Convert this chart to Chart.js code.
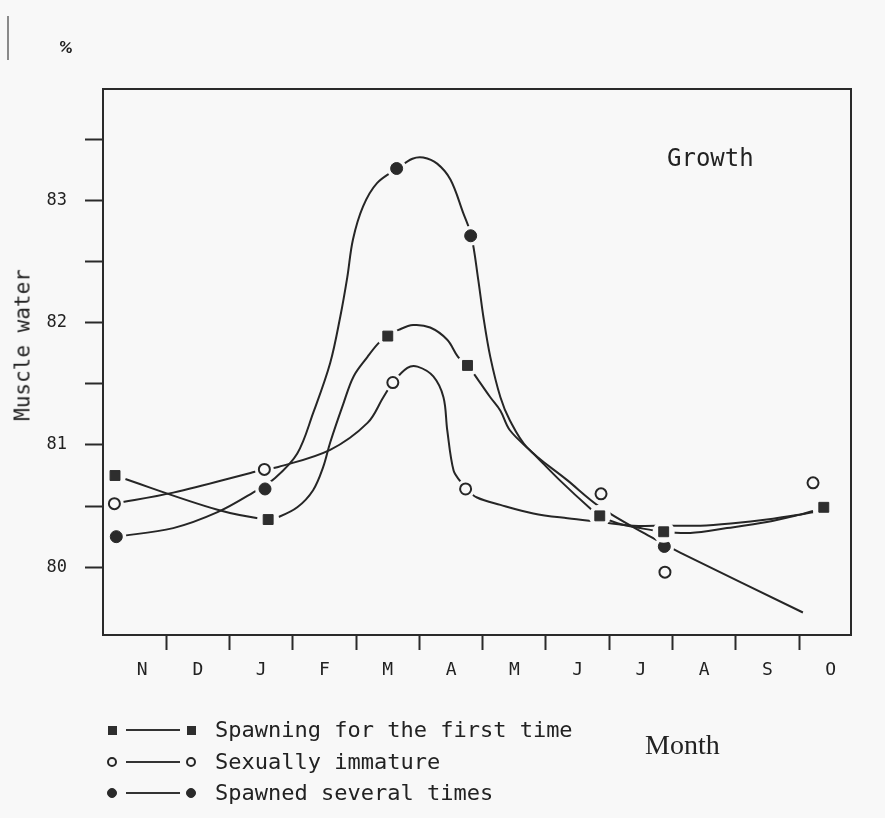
<!DOCTYPE html>
<html>
<head>
<meta charset="utf-8">
<script src="https://cdn.jsdelivr.net/npm/chart.js@4.4.0/dist/chart.umd.min.js"></script>
<style>
  html, body { margin: 0; padding: 0; background: #f8f8f8; }
  #wrap { position: relative; width: 885px; height: 818px; overflow: hidden; }
  #c { position: absolute; left: 0; top: 0; }
  .t { position: absolute; font-family: "DejaVu Sans Mono", "Liberation Mono", monospace; color: #222; white-space: nowrap; line-height: 1; }
  .serif { font-family: "Liberation Serif", "DejaVu Serif", serif; }
  .row { position: absolute; left: 0; height: 30px; width: 700px; }
  .mk { position: absolute; box-sizing: border-box; }
  .ln { position: absolute; height: 2px; background: #333; }
</style>
</head>
<body>
<div id="wrap">
  <canvas id="c" width="885" height="818"></canvas>
  <div style="position:absolute;left:7px;top:16px;width:2px;height:44px;background:#8a8a8a;"></div>
  <div class="t" style="left:66px;top:47px;font-family:'DejaVu Sans',sans-serif;font-size:14px;font-weight:bold;transform:translate(-50%,-50%) rotate(12deg);">%</div>
  <div class="t" style="left:667px;top:158px;font-size:24px;transform:translateY(-50%);">Growth</div>
  <div class="t" style="left:23px;top:345px;font-size:21px;transform:translate(-50%,-50%) rotate(-90deg);">Muscle water</div>
  <div class="t serif" style="left:645px;top:745px;font-size:28px;transform:translateY(-50%);">Month</div>
  <div id="legend"></div>
</div>
<script>
// ---------- categories / ticks ----------
const monthLabels   = ['N','D','J','F','M','A','M','J','J','A','S','O'];
const monthLabelPos = [0.62, 1.5, 2.5, 3.5, 4.5, 5.5, 6.5, 7.5, 8.5, 9.5, 10.5, 11.5];
const monthTickPos  = [1, 2, 3, 4, 5, 6, 7, 8, 9, 10, 11];
const yTickValues   = [80, 80.5, 81, 81.5, 82, 82.5, 83, 83.5];
const yLabelValues  = [80, 81, 82, 83];

// ---------- series names ----------
const seriesNames = ['Spawning for the first time', 'Sexually immature', 'Spawned several times'];

// ---------- measured points (month position, % muscle water) ----------
const firstTimeX = [0.19, 2.61, 4.50, 5.76, 7.85, 8.86, 11.39];
const firstTimeY = [80.75, 80.39, 81.89, 81.65, 80.42, 80.29, 80.49];
const immatureX  = [0.18, 2.55, 4.58, 5.73, 7.87, 8.88, 11.22];
const immatureY  = [80.52, 80.80, 81.51, 80.64, 80.60, 79.96, 80.69];
const severalX   = [0.21, 2.56, 4.64, 5.81, 8.87];
const severalY   = [80.25, 80.64, 83.26, 82.71, 80.17];

// ---------- fitted curves ----------
const firstTimeCurveX = [0.19, 1.81, 2.61, 2.77, 3.07, 3.32, 3.48, 3.59, 3.80, 3.96, 4.18, 4.35, 4.49, 4.67, 4.90, 5.17, 5.44, 5.61, 5.76, 5.93, 6.12, 6.28, 6.43, 6.80, 7.22, 7.70, 7.85, 8.13, 8.49, 8.85, 9.28, 9.86, 10.49, 11.01, 11.22];
const firstTimeCurveY = [80.75, 80.47, 80.39, 80.41, 80.49, 80.63, 80.82, 81.02, 81.34, 81.56, 81.72, 81.83, 81.89, 81.94, 81.98, 81.96, 81.86, 81.72, 81.65, 81.53, 81.39, 81.28, 81.12, 80.93, 80.71, 80.48, 80.42, 80.36, 80.32, 80.29, 80.28, 80.32, 80.37, 80.43, 80.46];
const immatureCurveX  = [0.18, 1.11, 2.33, 2.55, 2.77, 3.59, 4.18, 4.43, 4.58, 4.81, 4.97, 5.22, 5.38, 5.44, 5.54, 5.65, 5.74, 5.91, 6.28, 6.80, 7.34, 7.86, 8.38, 8.91, 9.44, 9.96, 10.49, 11.01, 11.22];
const immatureCurveY  = [80.52, 80.61, 80.77, 80.80, 80.82, 80.96, 81.18, 81.39, 81.51, 81.63, 81.64, 81.56, 81.39, 81.12, 80.79, 80.70, 80.64, 80.57, 80.51, 80.44, 80.40, 80.37, 80.34, 80.34, 80.34, 80.36, 80.39, 80.43, 80.45];
const severalCurveX   = [0.21, 1.11, 1.81, 2.37, 2.72, 3.07, 3.32, 3.59, 3.75, 3.86, 3.95, 4.11, 4.33, 4.65, 4.89, 5.06, 5.28, 5.49, 5.69, 5.82, 5.93, 6.01, 6.12, 6.28, 6.43, 6.70, 7.34, 7.86, 8.65, 9.12, 11.06];
const severalCurveY   = [80.25, 80.32, 80.45, 80.61, 80.73, 80.93, 81.26, 81.67, 82.05, 82.37, 82.68, 82.95, 83.14, 83.26, 83.34, 83.35, 83.30, 83.17, 82.90, 82.71, 82.35, 82.05, 81.72, 81.39, 81.20, 80.98, 80.71, 80.49, 80.25, 80.12, 79.63];

const xMin = 0, xMax = 11.82, yMin = 79.446, yMax = 83.91;

// ---------- helpers ----------
const INK = '#262626';
const BG = '#f8f8f8';
const toXY = (xs, ys) => xs.map((x, i) => ({ x: x, y: ys[i] }));
const curve = (xs, ys) => ({
  data: toXY(xs, ys), showLine: true, pointRadius: 0, borderColor: INK, borderWidth: 2,
  tension: 0.35, fill: false, order: 2
});
const markerStyles = [
  { pointStyle: 'rect', pointRadius: 7, backgroundColor: '#2e2e2e', borderColor: '#2e2e2e', borderWidth: 1 },
  { pointStyle: 'circle', pointRadius: 5.5, backgroundColor: BG, borderColor: INK, borderWidth: 2 },
  { pointStyle: 'circle', pointRadius: 6, backgroundColor: '#2a2a2a', borderColor: '#2a2a2a', borderWidth: 1 }
];
const markers = (xs, ys, k) => Object.assign({
  label: seriesNames[k], data: toXY(xs, ys), showLine: false, order: 0, halo: true
}, markerStyles[k]);

const haloPlugin = {
  id: 'halo',
  beforeDatasetDraw(chart, args) {
    const ds = chart.data.datasets[args.index];
    if (!ds.halo) return;
    const ctx = chart.ctx;
    ctx.save();
    ctx.fillStyle = BG;
    args.meta.data.forEach(el => {
      ctx.beginPath();
      ctx.arc(el.x, el.y, ds.pointRadius + 4, 0, Math.PI * 2);
      ctx.fill();
    });
    ctx.restore();
  }
};
const framePlugin = {
  id: 'frame',
  beforeDraw(chart) {
    const ctx = chart.ctx;
    ctx.save();
    ctx.fillStyle = BG;
    ctx.fillRect(0, 0, chart.width, chart.height);
    ctx.restore();
  },
  afterDraw(chart) {
    const a = chart.chartArea, ctx = chart.ctx;
    ctx.save();
    ctx.strokeStyle = '#2a2a2a';
    ctx.lineWidth = 2;
    ctx.strokeRect(a.left, a.top, a.right - a.left, a.bottom - a.top);
    ctx.restore();
  }
};

new Chart(document.getElementById('c'), {
  type: 'scatter',
  data: {
    datasets: [
      curve(firstTimeCurveX, firstTimeCurveY),
      curve(immatureCurveX, immatureCurveY),
      curve(severalCurveX, severalCurveY),
      markers(firstTimeX, firstTimeY, 0),
      markers(immatureX, immatureY, 1),
      markers(severalX, severalY, 2)
    ]
  },
  options: {
    responsive: false,
    animation: false,
    events: [],
    layout: { padding: { top: 89, right: 34, left: 0, bottom: 0 } },
    plugins: { legend: { display: false }, tooltip: { enabled: false }, title: { display: false } },
    scales: {
      x: {
        type: 'linear', min: xMin, max: xMax,
        border: { display: false },
        grid: {
          drawOnChartArea: false, drawTicks: true, tickLength: 15, tickWidth: 2,
          tickColor: c => (c.tick && monthTickPos.includes(c.tick.value)) ? '#2a2a2a' : 'rgba(0,0,0,0)'
        },
        afterBuildTicks: s => { s.ticks = monthLabelPos.concat(monthTickPos).sort((a, b) => a - b).map(v => ({ value: v })); },
        afterFit: s => { s.height = 183; },
        ticks: {
          autoSkip: false, maxRotation: 0, padding: 10, color: '#222',
          font: { family: '"DejaVu Sans Mono", monospace', size: 18 },
          callback: v => { const i = monthLabelPos.indexOf(v); return i >= 0 ? monthLabels[i] : ''; }
        }
      },
      y: {
        type: 'linear', min: yMin, max: yMax,
        border: { display: false },
        grid: { drawOnChartArea: false, drawTicks: true, tickLength: 18, tickWidth: 2, tickColor: '#2a2a2a' },
        afterBuildTicks: s => { s.ticks = yTickValues.map(v => ({ value: v })); },
        afterFit: s => { s.width = 103; },
        ticks: {
          autoSkip: false, padding: 18, color: '#222',
          font: { family: '"DejaVu Sans Mono", monospace', size: 17 },
          callback: v => yLabelValues.includes(v) ? String(v) : ''
        }
      }
    }
  },
  plugins: [haloPlugin, framePlugin]
});

// ---------- legend (HTML) ----------
const legendRowsY = [730, 762, 793];
const legend = document.getElementById('legend');
seriesNames.forEach((name, k) => {
  const st = markerStyles[k];
  const row = document.createElement('div');
  row.className = 'row';
  row.style.top = (legendRowsY[k] - 15) + 'px';
  const mk = cx => {
    const m = document.createElement('div');
    m.className = 'mk';
    const size = st.pointStyle === 'rect' ? 9 : 10;
    m.style.width = size + 'px'; m.style.height = size + 'px';
    m.style.left = (cx - size / 2) + 'px'; m.style.top = (15 - size / 2) + 'px';
    m.style.background = st.backgroundColor;
    m.style.border = (k === 1 ? 2 : 1) + 'px solid ' + st.borderColor;
    if (st.pointStyle === 'circle') m.style.borderRadius = '50%';
    return m;
  };
  row.appendChild(mk(112));
  const ln = document.createElement('div');
  ln.className = 'ln';
  ln.style.left = '126px'; ln.style.width = '54px'; ln.style.top = '14px';
  row.appendChild(ln);
  row.appendChild(mk(191));
  const tx = document.createElement('div');
  tx.className = 't';
  tx.style.left = '215px'; tx.style.top = '15px'; tx.style.fontSize = '22px';
  tx.style.transform = 'translateY(-50%)';
  tx.textContent = name;
  row.appendChild(tx);
  legend.appendChild(row);
});
</script>
</body>
</html>
